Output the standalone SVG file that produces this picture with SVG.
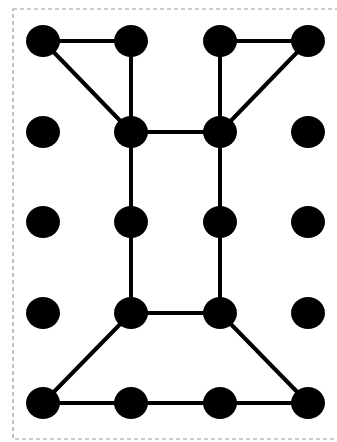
<svg xmlns="http://www.w3.org/2000/svg" width="337" height="442" viewBox="0 0 337 442">
<style>
.frame{fill:none;stroke:#9a9a9a;stroke-width:1.2;stroke-dasharray:4 3}
.edge{stroke:#000;stroke-width:4;fill:none;stroke-linecap:round}
.dot{fill:#000}
</style>
<rect x="0" y="0" width="337" height="442" fill="#fff"/>
<rect class="frame" x="13" y="9" width="334" height="430"/>
<g id="connectors">
<line class="edge" x1="43" y1="41" x2="131" y2="41"/>
<line class="edge" x1="43" y1="41" x2="131" y2="132"/>
<line class="edge" x1="131" y1="41" x2="131" y2="132"/>
<line class="edge" x1="131" y1="132" x2="220" y2="132"/>
<line class="edge" x1="220" y1="41" x2="308" y2="41"/>
<line class="edge" x1="220" y1="41" x2="220" y2="132"/>
<line class="edge" x1="308" y1="41" x2="220" y2="132"/>
<line class="edge" x1="131" y1="132" x2="131" y2="313"/>
<line class="edge" x1="220" y1="132" x2="220" y2="313"/>
<line class="edge" x1="131" y1="313" x2="220" y2="313"/>
<line class="edge" x1="131" y1="313" x2="43" y2="403"/>
<line class="edge" x1="220" y1="313" x2="308" y2="403"/>
<line class="edge" x1="43" y1="403" x2="308" y2="403"/>
</g>
<g id="n00"><ellipse class="dot" cx="43" cy="41" rx="17" ry="16"/></g>
<g id="n10"><ellipse class="dot" cx="131" cy="41" rx="17" ry="16"/></g>
<g id="n20"><ellipse class="dot" cx="220" cy="41" rx="17" ry="16"/></g>
<g id="n30"><ellipse class="dot" cx="308" cy="41" rx="17" ry="16"/></g>
<g id="n01"><ellipse class="dot" cx="43" cy="132" rx="17" ry="16"/></g>
<g id="n11"><ellipse class="dot" cx="131" cy="132" rx="17" ry="16"/></g>
<g id="n21"><ellipse class="dot" cx="220" cy="132" rx="17" ry="16"/></g>
<g id="n31"><ellipse class="dot" cx="308" cy="132" rx="17" ry="16"/></g>
<g id="n02"><ellipse class="dot" cx="43" cy="222" rx="17" ry="16"/></g>
<g id="n12"><ellipse class="dot" cx="131" cy="222" rx="17" ry="16"/></g>
<g id="n22"><ellipse class="dot" cx="220" cy="222" rx="17" ry="16"/></g>
<g id="n32"><ellipse class="dot" cx="308" cy="222" rx="17" ry="16"/></g>
<g id="n03"><ellipse class="dot" cx="43" cy="313" rx="17" ry="16"/></g>
<g id="n13"><ellipse class="dot" cx="131" cy="313" rx="17" ry="16"/></g>
<g id="n23"><ellipse class="dot" cx="220" cy="313" rx="17" ry="16"/></g>
<g id="n33"><ellipse class="dot" cx="308" cy="313" rx="17" ry="16"/></g>
<g id="n04"><ellipse class="dot" cx="43" cy="403" rx="17" ry="16"/></g>
<g id="n14"><ellipse class="dot" cx="131" cy="403" rx="17" ry="16"/></g>
<g id="n24"><ellipse class="dot" cx="220" cy="403" rx="17" ry="16"/></g>
<g id="n34"><ellipse class="dot" cx="308" cy="403" rx="17" ry="16"/></g>
</svg>
